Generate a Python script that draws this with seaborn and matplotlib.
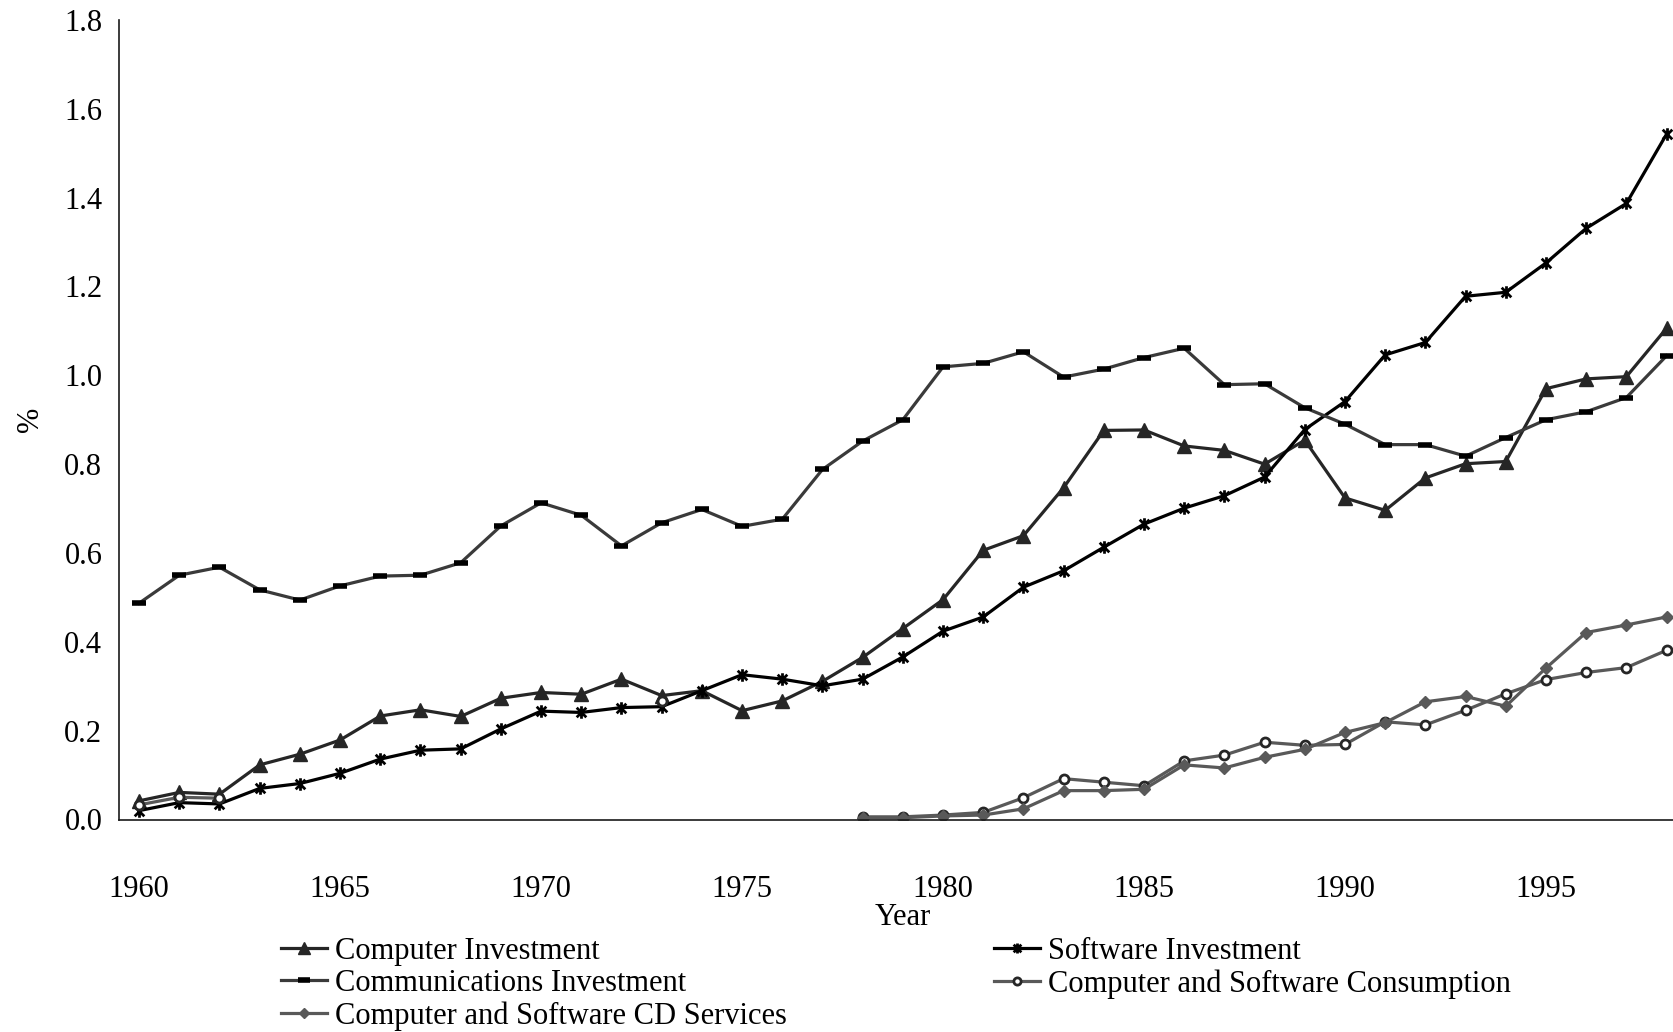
import numpy as np
import pandas as pd
import seaborn as sns
import matplotlib.pyplot as plt
from matplotlib.path import Path
from matplotlib.lines import Line2D

years = list(range(1960, 1999))

computer_inv = [0.042, 0.061, 0.057, 0.123, 0.147, 0.179, 0.233, 0.247, 0.232, 0.273,
                0.286, 0.282, 0.316, 0.279, 0.290, 0.245, 0.267, 0.311, 0.365, 0.430,
                0.495, 0.606, 0.639, 0.747, 0.876, 0.877, 0.841, 0.831, 0.800, 0.854,
                0.724, 0.696, 0.769, 0.801, 0.806, 0.970, 0.992, 0.997, 1.106]
software_inv = [0.020, 0.038, 0.035, 0.070, 0.081, 0.104, 0.136, 0.156, 0.159, 0.204,
                0.244, 0.241, 0.252, 0.254, 0.290, 0.326, 0.316, 0.301, 0.316, 0.366,
                0.424, 0.456, 0.523, 0.560, 0.613, 0.665, 0.701, 0.729, 0.771, 0.878,
                0.941, 1.046, 1.074, 1.178, 1.187, 1.253, 1.331, 1.387, 1.543]
comms_inv = [0.487, 0.550, 0.568, 0.517, 0.494, 0.526, 0.548, 0.550, 0.578, 0.661,
             0.713, 0.685, 0.616, 0.668, 0.698, 0.660, 0.676, 0.788, 0.852, 0.900,
             1.019, 1.027, 1.053, 0.996, 1.014, 1.040, 1.061, 0.979, 0.981, 0.927,
             0.890, 0.844, 0.844, 0.818, 0.860, 0.900, 0.918, 0.950, 1.044]
cs_consumption = [0.033, 0.050, 0.048, None, None, None, None, None, None, None,
                  None, None, None, 0.266, None, None, None, None, 0.006, 0.006,
                  0.010, 0.016, 0.049, 0.092, 0.084, 0.076, 0.132, 0.145, 0.174, 0.167,
                  0.169, 0.220, 0.213, 0.246, 0.283, 0.315, 0.331, 0.342, 0.381]
cs_cd_services = [None] * 18 + [0.004, 0.004, 0.008, 0.010, 0.024, 0.065, 0.065, 0.068,
                                0.123, 0.116, 0.140, 0.158, 0.196, 0.218, 0.265, 0.277,
                                0.255, 0.341, 0.421, 0.438, 0.456]

series_names = ["Computer Investment", "Software Investment", "Communications Investment",
                "Computer and Software Consumption", "Computer and Software CD Services"]

# Excel style "star" marker: an x with a vertical bar
star = Path([(-1, -1), (1, 1), (-1, 1), (1, -1), (0, -1.3), (0, 1.3)],
            [Path.MOVETO, Path.LINETO, Path.MOVETO, Path.LINETO, Path.MOVETO, Path.LINETO])

styles = {
    "Computer Investment": dict(color="#262626", marker="^", markersize=10,
                                markerfacecolor="#262626", markeredgecolor="#262626", mew=1),
    "Software Investment": dict(color="#000000", marker=star, markersize=9,
                                markerfacecolor="none", markeredgecolor="#000000", mew=2),
    "Communications Investment": dict(color="#3a3a3a", marker="_", markersize=10,
                                      markeredgecolor="#000000", mew=4),
    "Computer and Software Consumption": dict(color="#595959", marker="o", markersize=6.5,
                                              markerfacecolor="white", markeredgecolor="#262626", mew=2),
    "Computer and Software CD Services": dict(color="#595959", marker="D", markersize=6,
                                              markerfacecolor="#595959", markeredgecolor="#595959", mew=1),
}

values = [computer_inv, software_inv, comms_inv, cs_consumption, cs_cd_services]
frames = []
for name, vals in zip(series_names, values):
    d = pd.DataFrame({"Year": years, "value": pd.array(vals, dtype="Float64").astype(float)})
    d["series"] = name
    # split on gaps so that missing years are not bridged
    d["seg"] = d["value"].isna().cumsum()
    frames.append(d.dropna())
df = pd.concat(frames, ignore_index=True)

plt.rcParams["font.family"] = ["Liberation Serif", "DejaVu Serif"]
fig = plt.figure(figsize=(16.73, 10.32), dpi=100)
ax = fig.add_axes([119 / 1673, 1 - 819.5 / 1032, 1 - 119 / 1673, (819.5 - 20) / 1032])

for name in series_names:
    sub = df[df["series"] == name]
    st = dict(styles[name])
    color = st.pop("color")
    sns.lineplot(data=sub, x="Year", y="value", units="seg", estimator=None,
                 color=color, lw=2.3, ax=ax, legend=False, **st)

ax.set_xlim(1959.5, 1998.16)
ax.set_ylim(0, 1.8)
ax.set_xticks(range(1960, 1996, 5))
ax.set_yticks(np.arange(0, 1.81, 0.2))
ax.set_yticklabels([f"{v:.1f}" for v in np.arange(0, 1.81, 0.2)])
ax.tick_params(axis="both", length=0, labelsize=22)
ax.tick_params(axis="x", pad=40)
ax.tick_params(axis="y", pad=12)
for s in ["top", "right"]:
    ax.spines[s].set_visible(False)
for s in ["left", "bottom"]:
    ax.spines[s].set_color("#1a1a1a")
    ax.spines[s].set_linewidth(1.2)

ax.set_xlabel("Year", fontsize=22)
ax.set_ylabel("%", fontsize=22)
ax.xaxis.set_label_coords(0.5045, -0.122)
ax.xaxis.label.set_va("center")
ax.yaxis.set_label_coords(-0.057, 0.5)
ax.yaxis.label.set_va("center")

order = ["Computer Investment", "Communications Investment", "Computer and Software CD Services",
         "Software Investment", "Computer and Software Consumption"]
handles = []
for name in order:
    st = dict(styles[name])
    color = st.pop("color")
    st["markersize"] = st["markersize"] * 0.8
    handles.append(Line2D([], [], color=color, lw=2.3, **st))
fig.legend(handles, order, loc="upper left", bbox_to_anchor=(0.168, 0.092),
           ncol=2, frameon=False, fontsize=22, handlelength=1.5, handletextpad=0.25,
           labelspacing=0.1, columnspacing=6.8, borderpad=0, borderaxespad=0)

fig.savefig("out.png", dpi=100)
